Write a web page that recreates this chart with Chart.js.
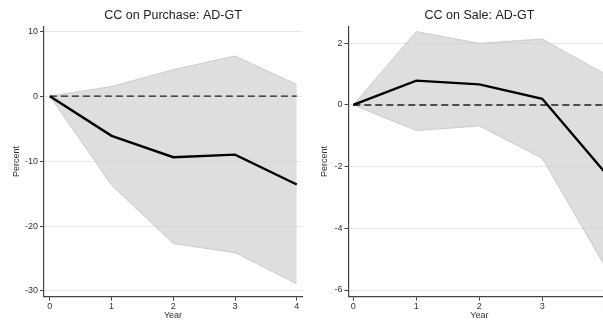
<!DOCTYPE html>
<html>
<head>
<meta charset="utf-8">
<script src="https://cdn.jsdelivr.net/npm/chart.js@4.4.1/dist/chart.umd.min.js"></script>
<style>
    html, body { margin: 0; padding: 0; background: #fff; }
    body { width: 603px; height: 322px; overflow: hidden; position: relative; }
    canvas { position: absolute; top: 0; }
    #chartPurchase { left: 0; }
    #chartSale { left: 300px; }
</style>
</head>
<body>
<canvas id="chartPurchase" width="310" height="322"></canvas>
<canvas id="chartSale" width="320" height="322"></canvas>
<script>
// år efter hændelsen
const years = [0, 1, 2, 3, 4];
const zeroLine = [0, 0, 0, 0, 0];

// CC on Purchase (procent)
const purchaseEst = [0, -6.1, -9.4, -9.0, -13.6];
const purchaseUpper = [0, 1.5, 4.1, 6.2, 1.8];
const purchaseLower = [0, -13.7, -22.7, -24.1, -28.9];
const purchaseTicks = [-30, -20, -10, 0, 10];

// CC on Sale (procent)
const saleEst = [0, 0.79, 0.67, 0.2, -2.2];
const saleUpper = [0, 2.38, 2.0, 2.14, 1.0];
const saleLower = [0, -0.83, -0.68, -1.73, -5.25];
const saleTicks = [-6, -4, -2, 0, 2];

Chart.defaults.font.family = '"Liberation Sans", Arial, sans-serif';
Chart.defaults.color = '#333';

const toPoints = (ys) => years.map((x, i) => ({ x: x, y: ys[i] }));

// tegner overskriften centreret over selve plotområdet
const panelTitle = {
    id: 'panelTitle',
    afterDraw(chart, args, options) {
        const { ctx, chartArea } = chart;
        ctx.save();
        ctx.font = '12.5px "Liberation Sans", Arial, sans-serif';
        ctx.fillStyle = '#222';
        ctx.textAlign = 'center';
        ctx.textBaseline = 'middle';
        ctx.fillText(options.text, (chartArea.left + chartArea.right) / 2, 16);
        ctx.restore();
    }
};

function makePanel(canvas, cfg) {
    if (!canvas) return;
    new Chart(canvas, {
        type: 'line',
        data: {
            datasets: [
                {
                    label: 'estimate',
                    data: toPoints(cfg.est),
                    borderColor: '#000',
                    borderWidth: 2.4,
                    pointRadius: 0,
                    tension: 0,
                    order: 0
                },
                {
                    label: 'zero',
                    data: toPoints(zeroLine),
                    borderColor: '#1e1e1e',
                    borderWidth: 1.3,
                    borderDash: [7, 4],
                    pointRadius: 0,
                    order: 1
                },
                {
                    label: 'upper',
                    data: toPoints(cfg.upper),
                    borderColor: '#cdcdcd',
                    borderWidth: 1,
                    backgroundColor: 'rgba(200,200,200,0.6)',
                    fill: '+1', // fylder ned til lower
                    pointRadius: 0,
                    tension: 0,
                    order: 2
                },
                {
                    label: 'lower',
                    data: toPoints(cfg.lower),
                    borderColor: '#cdcdcd',
                    borderWidth: 1,
                    pointRadius: 0,
                    tension: 0,
                    order: 3
                }
            ]
        },
        options: {
            responsive: false,
            animation: false,
            layout: {
                padding: { top: 26.5, right: cfg.padRight, bottom: 0, left: 0 }
            },
            scales: {
                x: {
                    type: 'linear',
                    min: cfg.xMin,
                    max: cfg.xMax,
                    afterBuildTicks: (scale) => { scale.ticks = years.map(v => ({ value: v })); },
                    afterFit: (scale) => { scale.height = 25.3; },
                    grid: { drawOnChartArea: false, drawTicks: true, tickLength: 4, tickColor: '#444' },
                    border: { display: true, color: '#444', width: 1.2 },
                    ticks: { font: { size: 9 }, padding: 0.5, maxRotation: 0, color: '#333' },
                    title: { display: true, text: 'Year', font: { size: 9 }, color: '#333', padding: { top: 0, bottom: 0.6 } }
                },
                y: {
                    min: cfg.yMin,
                    max: cfg.yMax,
                    afterBuildTicks: (scale) => { scale.ticks = cfg.ticks.map(v => ({ value: v })); },
                    afterFit: (scale) => { scale.width = cfg.yWidth; },
                    grid: { color: '#e9e9e9', lineWidth: 1, tickLength: 4, tickColor: '#444' },
                    border: { display: true, color: '#444', width: 1.2 },
                    ticks: { font: { size: 9 }, padding: 2, color: '#333' },
                    title: { display: true, text: 'Percent', font: { size: 9 }, color: '#333', padding: { top: cfg.titlePad, bottom: 0 } }
                }
            },
            plugins: {
                legend: { display: false },
                tooltip: { enabled: false },
                panelTitle: { text: cfg.title }
            }
        },
        plugins: [panelTitle]
    });
}

makePanel(document.querySelector('#chartPurchase'), {
    title: 'CC on Purchase: AD-GT',
    est: purchaseEst, upper: purchaseUpper, lower: purchaseLower, ticks: purchaseTicks,
    xMin: -0.095, xMax: 4.085, yMin: -30.88, yMax: 10.74,
    yWidth: 44, padRight: 8, titlePad: 10.9
});

makePanel(document.querySelector('#chartSale'), {
    title: 'CC on Sale: AD-GT',
    est: saleEst, upper: saleUpper, lower: saleLower, ticks: saleTicks,
    xMin: -0.076, xMax: 4.08, yMin: -6.217, yMax: 2.545,
    yWidth: 48.5, padRight: 9.7, titlePad: 19.6
});
</script>
</body>
</html>
